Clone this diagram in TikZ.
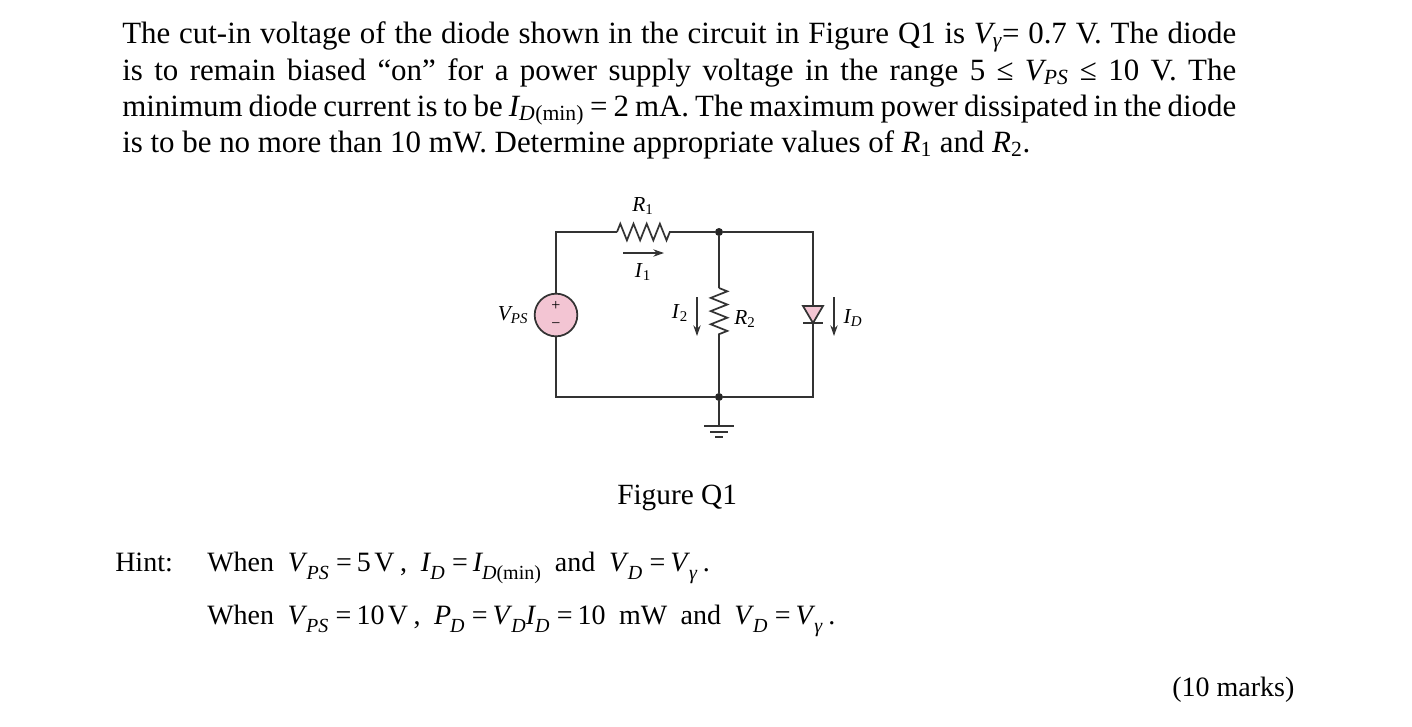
\documentclass[tikz,border=0pt]{standalone}
\usepackage{fontspec}
\setmainfont{Liberation Serif}
\usetikzlibrary{arrows.meta,decorations.pathmorphing}
\definecolor{wirecol}{HTML}{333333}
\definecolor{srcpink}{HTML}{F3C5D3}
\newcommand{\hsub}[2]{\textit{#1}\kern-0.04em\raisebox{-0.32em}{\fontsize{15}{16}\selectfont\textit{#2}}}
\newcommand{\eqs}{\kern0.26em=\kern0.18em}
\tikzset{
  wire/.style={draw=wirecol,line width=1.3pt},
  resist/.style={wire,decorate,decoration={zigzag,segment length=9.9pt,amplitude=6.2pt}},
  curarrow/.style={draw=wirecol,line width=0.9pt,-{Stealth[length=8pt,width=5.5pt]}},
  jdot/.style={circle,fill=black!85,inner sep=0pt,minimum size=6pt},
  bodyline/.style={anchor=base west,inner sep=0pt,font=\fontsize{23.2}{26}\selectfont},
  hintline/.style={anchor=base west,inner sep=0pt,font=\fontsize{21}{26}\selectfont},
  cirlabel/.style={inner sep=0pt,font=\fontsize{16}{18}\selectfont},
  srcsign/.style={inner sep=0pt,font=\fontsize{12}{12}\selectfont}
}
\begin{document}
\begin{tikzpicture}[x=0.75pt,y=0.75pt,yscale=-1,xscale=1]
\useasboundingbox (0,0) rectangle (1412,726);
%Question text
\node[bodyline] (lineone) at (122,43) {\makebox[835.5pt][s]{The cut-in voltage of the diode shown in the circuit in Figure Q1 is \textit{V\textsubscript{γ}}= 0.7 V. The diode}};
\node[bodyline] (linetwo) at (122,80) {\makebox[835.5pt][s]{is to remain biased “on” for a power supply voltage in the range 5 ≤ \textit{V\textsubscript{PS}} ≤ 10 V. The}};
\node[bodyline] (linethree) at (122,116) {\makebox[835.5pt][s]{minimum diode current is to be \textit{I\textsubscript{D}}\textsubscript{(min)} = 2 mA. The maximum power dissipated in the diode}};
\node[bodyline] (linefour) at (122,152) {\makebox[681pt][s]{is to be no more than 10 mW. Determine appropriate values of \textit{R}\textsubscript{1} and \textit{R}\textsubscript{2}.}};
%Junctions and ends
\node[jdot] (jtop) at (719,232) {};
\node[jdot] (jbot) at (719,397) {};
\coordinate (tl) at (556,232);
\coordinate (bl) at (556,397);
\coordinate (tr) at (813,232);
\coordinate (br) at (813,397);
\coordinate (r1a) at (617,232);
\coordinate (r1b) at (670,232);
\coordinate (r2a) at (719,288);
\coordinate (r2b) at (719,340);
\coordinate (da) at (813,306);
\coordinate (dk) at (813,323);
\coordinate (gnd) at (719,426);
%Source
\node[circle,wire,fill=srcpink,minimum size=32pt,inner sep=0pt] (vps) at (556,315) {};
\node[srcsign] (vplus) at (556,306) {+};
\node[srcsign] (vminus) at (556,326) {−};
%Wires
\draw[wire] (vps.north) -- (tl) -- (r1a);
\draw[resist] (r1a) -- (r1b);
\draw[wire] (r1b) -- (jtop) -- (tr) -- (da);
\draw[wire] (jtop) -- (r2a);
\draw[resist] (r2a) -- (r2b);
\draw[wire] (r2b) -- (jbot);
\draw[wire] (vps.south) -- (bl) -- (jbot) -- (br) -- (dk);
%Diode
\draw[wire,fill=srcpink] (803,306) -- (823,306) -- (dk) -- cycle;
\draw[wire] (803,323) -- (823,323);
%Ground
\draw[wire] (jbot) -- (gnd);
\draw[wire] (704,426) -- (734,426);
\draw[wire] (710,432) -- (728,432);
\draw[wire] (715,437) -- (723,437);
%Current arrows
\coordinate (ione) at (623,253);
\coordinate (ioneend) at (664,253);
\coordinate (itwo) at (697,297);
\coordinate (itwoend) at (697,336);
\coordinate (idd) at (834,297);
\coordinate (iddend) at (834,336);
\draw[curarrow] (ione) -- (ioneend);
\draw[curarrow] (itwo) -- (itwoend);
\draw[curarrow] (idd) -- (iddend);
%Circuit labels
\node[cirlabel] (rone) at (643,206) {\textit{R}\textsubscript{1}};
\node[cirlabel] (ionelab) at (643,272) {\textit{I}\textsubscript{1}};
\node[cirlabel] (itwolab) at (680,313) {\textit{I}\textsubscript{2}};
\node[cirlabel] (rtwo) at (745,319) {\textit{R}\textsubscript{2}};
\node[cirlabel] (idlab) at (853,318) {\textit{I\textsubscript{D}}};
\node[cirlabel] (vpslab) at (513,315) {\textit{V\textsubscript{PS}}};
%Caption and hint
\node[bodyline,font=\fontsize{22}{26}\selectfont] (figlab) at (617,504) {Figure Q1};
\node[hintline] (hintlab) at (115,571) {Hint:};
\node[hintline] (hintone) at (207,571) {\makebox[377pt][s]{When \hsub{V}{PS}\eqs 5\kern0.12em V\kern0.2em, \hsub{I}{D}\eqs\hsub{I}{D}\raisebox{-0.32em}{\fontsize{15}{16}\selectfont(min)} and \hsub{V}{D}\eqs\hsub{V}{γ}\kern0.2em.}};
\node[hintline] (hinttwo) at (207,624) {\makebox[471pt][s]{When \hsub{V}{PS}\eqs 10\kern0.12em V\kern0.2em, \hsub{P}{D}\eqs\hsub{V}{D}\hsub{I}{D}\eqs 10 mW and \hsub{V}{D}\eqs\hsub{V}{γ}\kern0.2em.}};
\node[hintline] (marks) at (1172,696) {(10 marks)};
\end{tikzpicture}
\end{document}
